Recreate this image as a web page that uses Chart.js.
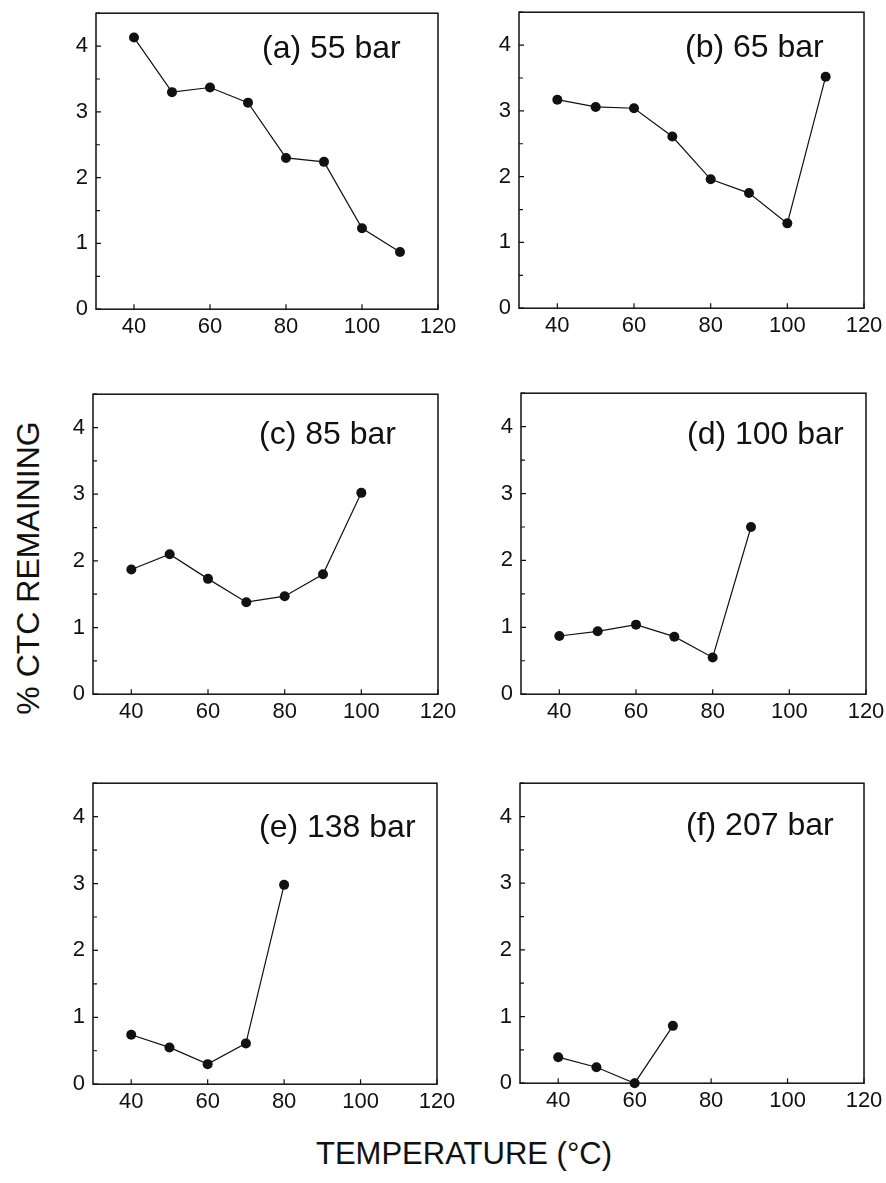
<!DOCTYPE html>
<html>
<head>
<meta charset="utf-8">
<script src="https://cdn.jsdelivr.net/npm/chart.js@4.4.1/dist/chart.umd.min.js"></script>
<style>
    body { margin: 0; background: #fff; width: 886px; height: 1183px; position: relative; overflow: hidden;
           font-family: "Liberation Sans", Arial, sans-serif; color: #111; }
    canvas { position: absolute; }
    .ytitle { position: absolute; left: 28px; top: 568px; transform: translate(-50%, -50%) rotate(-90deg);
              font-size: 32px; white-space: nowrap; }
    .xtitle { position: absolute; left: 464px; top: 1154px; transform: translate(-50%, -50%);
              font-size: 31px; white-space: nowrap; }
</style>
</head>
<body>
<div class="ytitle">% CTC REMAINING</div>
<div class="xtitle">TEMPERATURE (°C)</div>
<script>
// --- data ---
const temperatures = [40, 50, 60, 70, 80, 90, 100, 110];
const panelLabels = ['(a) 55 bar', '(b) 65 bar', '(c) 85 bar', '(d) 100 bar', '(e) 138 bar', '(f) 207 bar'];
const ctc55 = [4.13, 3.30, 3.37, 3.14, 2.30, 2.24, 1.23, 0.87];
const ctc65 = [3.17, 3.06, 3.04, 2.61, 1.96, 1.75, 1.29, 3.52];
const ctc85 = [1.87, 2.10, 1.73, 1.38, 1.47, 1.80, 3.02];
const ctc100 = [0.87, 0.94, 1.04, 0.86, 0.55, 2.50];
const ctc138 = [0.74, 0.55, 0.30, 0.61, 2.98];
const ctc207 = [0.39, 0.24, 0.00, 0.86];
const xTicks = [40, 60, 80, 100, 120];
const yTickLabels = [0, 1, 2, 3, 4];

const series = [ctc55, ctc65, ctc85, ctc100, ctc138, ctc207];

// plot-area boxes on the page (left, top, right, bottom) and label centre offset from top
const boxes = [
    { l: 96, t: 13, r: 438, b: 309, ly: 36 },
    { l: 519, t: 12, r: 864, b: 308, ly: 36 },
    { l: 93, t: 394, r: 438, b: 694, ly: 41 },
    { l: 521, t: 393, r: 866, b: 694, ly: 42 },
    { l: 93, t: 783, r: 437, b: 1084, ly: 45 },
    { l: 520, t: 783, r: 864, b: 1083, ly: 43 }
];

const Y_AXIS_W = 50, X_AXIS_H = 36, PAD_TOP = 4, PAD_RIGHT = 26;
const FONT = '"Liberation Sans", Arial, sans-serif';
const INK = '#111';

// frame, inward ticks and the panel label
const framePlugin = {
    id: 'frame',
    afterDraw(chart, args, opts) {
        const { ctx, chartArea: a, scales } = chart;
        ctx.save();
        ctx.strokeStyle = INK;
        ctx.lineWidth = 1.5;
        ctx.strokeRect(a.left, a.top, a.right - a.left, a.bottom - a.top);
        ctx.lineWidth = 1.2;
        ctx.beginPath();
        scales.y.ticks.forEach(t => {
            const py = scales.y.getPixelForValue(t.value);
            const len = Number.isInteger(t.value) ? 5 : 4;
            ctx.moveTo(a.left, py);
            ctx.lineTo(a.left + len, py);
        });
        scales.x.ticks.forEach(t => {
            const px = scales.x.getPixelForValue(t.value);
            ctx.moveTo(px, a.bottom);
            ctx.lineTo(px, a.bottom - 5);
        });
        ctx.stroke();
        ctx.fillStyle = INK;
        ctx.font = '32px ' + FONT;
        ctx.textAlign = 'left';
        ctx.textBaseline = 'middle';
        ctx.fillText(opts.label, a.left + 166, a.top + opts.ly);
        ctx.restore();
    }
};

series.forEach((values, i) => {
    const box = boxes[i];
    const canvas = document.createElement('canvas');
    let w = Y_AXIS_W + (box.r - box.l) + PAD_RIGHT;
    let h = PAD_TOP + (box.b - box.t) + X_AXIS_H;
    canvas.width = w;
    canvas.height = h;
    document.body.appendChild(canvas);

    const chart = new Chart(canvas, {
        type: 'line',
        data: {
            datasets: [{
                data: values.map((v, k) => ({ x: temperatures[k], y: v })),
                borderColor: INK,
                borderWidth: 1.2,
                backgroundColor: INK,
                pointRadius: 5,
                pointBackgroundColor: INK,
                pointBorderWidth: 0,
                tension: 0,
                clip: false
            }]
        },
        options: {
            responsive: false,
            maintainAspectRatio: false,
            animation: false,
            devicePixelRatio: 1,
            layout: { padding: { top: PAD_TOP, right: PAD_RIGHT, left: 0, bottom: 0 } },
            plugins: {
                legend: { display: false },
                tooltip: { enabled: false },
                frame: { label: panelLabels[i], ly: box.ly }
            },
            scales: {
                x: {
                    type: 'linear',
                    min: 30,
                    max: 120,
                    afterBuildTicks: s => { s.ticks = xTicks.map(v => ({ value: v })); },
                    afterFit: s => { s.height = X_AXIS_H; },
                    grid: { display: false, drawTicks: false },
                    border: { display: false },
                    ticks: { color: INK, font: { family: FONT, size: 22 }, padding: 5, maxRotation: 0, autoSkip: false }
                },
                y: {
                    min: 0,
                    max: 4.5,
                    afterBuildTicks: s => {
                        const t = [];
                        for (let v = 0; v <= 4.5; v += 0.5) t.push({ value: v });
                        s.ticks = t;
                    },
                    afterFit: s => { s.width = Y_AXIS_W; },
                    grid: { display: false, drawTicks: false },
                    border: { display: false },
                    ticks: {
                        color: INK,
                        font: { family: FONT, size: 22 },
                        padding: 8,
                        autoSkip: false,
                        callback: v => yTickLabels.includes(v) ? String(v) : ''
                    }
                }
            }
        },
        plugins: [framePlugin]
    });

    // grow the canvas so the plot area gets the measured size, then place it on the page
    const a = chart.chartArea;
    w += (box.r - box.l) - (a.right - a.left);
    h += (box.b - box.t) - (a.bottom - a.top);
    chart.resize(w, h);
    const a2 = chart.chartArea;
    canvas.style.left = (box.l - a2.left) + 'px';
    canvas.style.top = (box.t - a2.top) + 'px';
});
</script>
</body>
</html>
